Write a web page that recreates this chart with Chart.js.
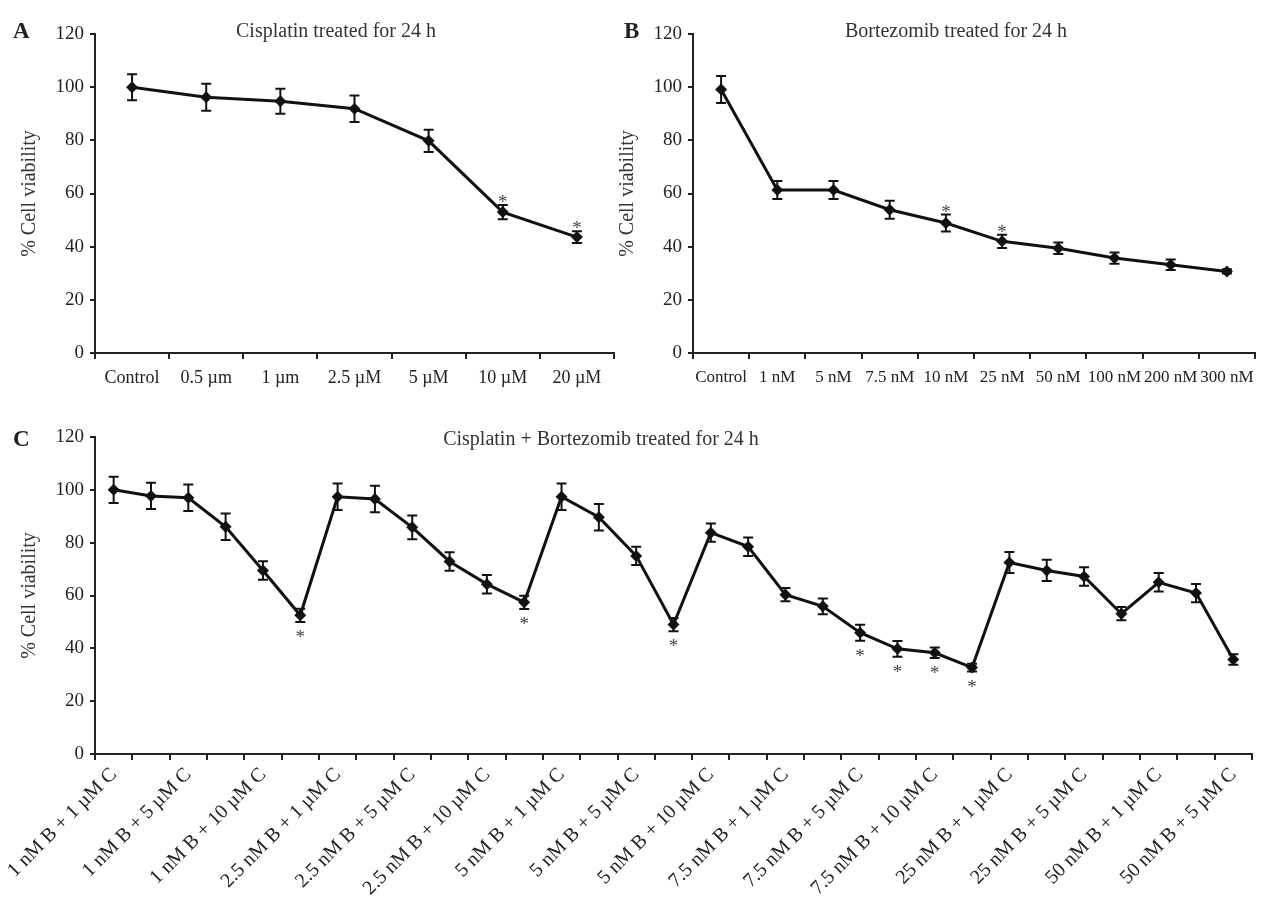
<!DOCTYPE html>
<html lang="en">
<head>
    <meta charset="UTF-8">
    <title>Cell viability - Cisplatin / Bortezomib</title>
    <script src="https://cdn.jsdelivr.net/npm/chart.js"></script>
    <style>
        body { margin: 0; background: #fff; }
        .fig { position: relative; width: 1262px; height: 902px; font-family: 'Liberation Serif', 'Times New Roman', serif; color: #222; }
        .fig canvas { position: absolute; }
        .letter { position: absolute; font-weight: bold; font-size: 23px; line-height: 1; transform: translateY(-50%); }
        .title { position: absolute; font-size: 20px; line-height: 1; white-space: nowrap; transform: translate(-50%, -50%); color: #333; }
    </style>
</head>
<body>
    <div class="fig">
        <canvas id="chartA" width="620" height="410" style="left:0;top:0"></canvas>
        <canvas id="chartB" width="650" height="410" style="left:612px;top:0"></canvas>
        <canvas id="chartC" width="1262" height="492" style="left:0;top:410px"></canvas>

        <div class="letter" style="left:13px;top:30px">A</div>
        <div class="title" style="left:336px;top:30px">Cisplatin treated for 24 h</div>
        <div class="letter" style="left:624px;top:30px">B</div>
        <div class="title" style="left:956px;top:30px">Bortezomib treated for 24 h</div>
        <div class="letter" style="left:13px;top:438px">C</div>
        <div class="title" style="left:601px;top:438px">Cisplatin + Bortezomib treated for 24 h</div>
    </div>

    <script>
        // Panel A - cisplatin alone
        const catsA = ['Control', '0.5 µm', '1 µm', '2.5 µM', '5 µM', '10 µM', '20 µM'];
        const meanA = [100, 96.2, 94.7, 91.9, 79.8, 53.0, 43.6];
        const errA = [4.9, 5.1, 4.7, 5.0, 4.2, 2.7, 2.2];
        const starA = [5, 6];

        // Panel B - bortezomib alone
        const catsB = ['Control', '1 nM', '5 nM', '7.5 nM', '10 nM', '25 nM', '50 nM', '100 nM', '200 nM', '300 nM'];
        const meanB = [99.1, 61.3, 61.3, 53.9, 48.9, 42.0, 39.4, 35.7, 33.2, 30.7];
        const errB = [5.1, 3.4, 3.4, 3.4, 3.2, 2.5, 2.2, 2.1, 2.0, 0.8];
        const starB = [4, 5];

        // Panel C - combinations (31 groups, only every other one is labelled)
        const tickLabelsC = ['1 nM B + 1 µM C', '1 nM B + 5 µM C', '1 nM B + 10 µM C',
            '2.5 nM B + 1 µM C', '2.5 nM B + 5 µM C', '2.5 nM B + 10 µM C',
            '5 nM B + 1 µM C', '5 nM B + 5 µM C', '5 nM B + 10 µM C',
            '7.5 nM B + 1 µM C', '7.5 nM B + 5 µM C', '7.5 nM B + 10 µM C',
            '25 nM B + 1 µM C', '25 nM B + 5 µM C', '50 nM B + 1 µM C', '50 nM B + 5 µM C'];
        const meanC = [100, 97.7, 97, 86, 69.5, 52.5, 97.4, 96.5, 85.8, 72.9, 64.3, 57.4, 97.4, 89.6, 75, 49,
            83.8, 78.5, 60.3, 55.9, 45.9, 39.8, 38.3, 32.7, 72.5, 69.5, 67.2, 53.1, 65, 60.9, 35.8];
        const errC = [5, 5, 5, 5, 3.5, 2.5, 5, 5, 4.5, 3.5, 3.5, 2.5, 5, 5, 3.5, 2.5,
            3.5, 3.5, 2.5, 3, 3, 3, 2, 1.5, 4, 4, 3.5, 2.5, 3.5, 3.5, 2];
        const starC = [5, 11, 15, 20, 21, 22, 23];
        const catsC = meanC.map((v, i) => i % 2 === 0 ? tickLabelsC[i / 2] : '');

        Chart.defaults.font.family = "'Liberation Serif', 'Times New Roman', serif";
        Chart.defaults.color = '#222';

        // error bars (I shape) and significance stars
        const errorBars = {
            id: 'errorBars',
            beforeDatasetsDraw(chart, args, opts) {
                const ctx = chart.ctx, xs = chart.scales.x, ys = chart.scales.y;
                const vals = chart.data.datasets[0].data;
                ctx.save();
                ctx.strokeStyle = '#111';
                ctx.lineWidth = 2;
                vals.forEach((v, i) => {
                    const px = xs.getPixelForValue(i);
                    const top = ys.getPixelForValue(v + opts.errors[i]);
                    const bot = ys.getPixelForValue(v - opts.errors[i]);
                    ctx.beginPath();
                    ctx.moveTo(px, top); ctx.lineTo(px, bot);
                    ctx.moveTo(px - 5, top); ctx.lineTo(px + 5, top);
                    ctx.moveTo(px - 5, bot); ctx.lineTo(px + 5, bot);
                    ctx.stroke();
                });
                ctx.restore();
            },
            afterDatasetsDraw(chart, args, opts) {
                const ctx = chart.ctx, xs = chart.scales.x, ys = chart.scales.y;
                const vals = chart.data.datasets[0].data;
                ctx.save();
                ctx.fillStyle = '#444';
                ctx.font = "19px 'Liberation Serif', serif";
                ctx.textAlign = 'center';
                ctx.textBaseline = 'alphabetic';
                opts.stars.forEach(i => {
                    const px = xs.getPixelForValue(i);
                    if (opts.side === 'above') {
                        ctx.fillText('*', px, ys.getPixelForValue(vals[i] + opts.errors[i]) + 3);
                    } else {
                        ctx.fillText('*', px, ys.getPixelForValue(vals[i] - opts.errors[i]) + 21);
                    }
                });
                ctx.restore();
            }
        };

        function makeChart(id, labels, values, errors, stars, side, cfg) {
            return new Chart(document.getElementById(id), {
                type: 'line',
                data: {
                    labels: labels,
                    datasets: [{
                        data: values,
                        borderColor: '#111',
                        borderWidth: 3,
                        pointStyle: 'rectRot',
                        pointRadius: 6,
                        pointBackgroundColor: '#111',
                        pointBorderWidth: 0,
                        tension: 0
                    }]
                },
                options: {
                    responsive: false,
                    animation: false,
                    layout: { padding: cfg.padding },
                    plugins: {
                        legend: { display: false },
                        tooltip: { enabled: false },
                        errorBars: { errors: errors, stars: stars, side: side }
                    },
                    scales: {
                        x: {
                            offset: true,
                            grid: { offset: true, drawOnChartArea: false, tickLength: 6, color: '#222', lineWidth: 2 },
                            border: { color: '#222', width: 2 },
                            ticks: Object.assign({ color: '#222', autoSkip: false }, cfg.xTicks),
                            afterFit: s => { s.height = cfg.xHeight; }
                        },
                        y: {
                            min: 0,
                            max: 120,
                            ticks: { stepSize: 20, color: '#222', font: { size: 19 }, padding: 6 },
                            grid: { drawOnChartArea: false, tickLength: 5, color: '#222', lineWidth: 2 },
                            border: { color: '#222', width: 2 },
                            title: { display: true, text: '% Cell viability', color: '#333', font: { size: 20 }, padding: { top: cfg.titlePad, bottom: 0 } },
                            afterFit: s => { s.width = cfg.yWidth; }
                        }
                    }
                },
                plugins: [errorBars]
            });
        }

        const chartA = makeChart('chartA', catsA, meanA, errA, starA, 'above', {
            padding: { top: 34, right: 3, left: 0, bottom: 0 },
            xHeight: 57, yWidth: 95, titlePad: 18,
            xTicks: { font: { size: 18 }, padding: 8, maxRotation: 0 }
        });

        const chartB = makeChart('chartB', catsB, meanB, errB, starB, 'above', {
            padding: { top: 34, right: 7, left: 0, bottom: 0 },
            xHeight: 57, yWidth: 81, titlePad: 4,
            xTicks: { font: { size: 17 }, padding: 8, maxRotation: 0 }
        });

        const chartC = makeChart('chartC', catsC, meanC, errC, starC, 'below', {
            padding: { top: 27, right: 10, left: 0, bottom: 0 },
            xHeight: 148, yWidth: 95, titlePad: 18,
            xTicks: { font: { size: 20 }, padding: 3, minRotation: 45, maxRotation: 45 }
        });
    </script>
</body>
</html>
